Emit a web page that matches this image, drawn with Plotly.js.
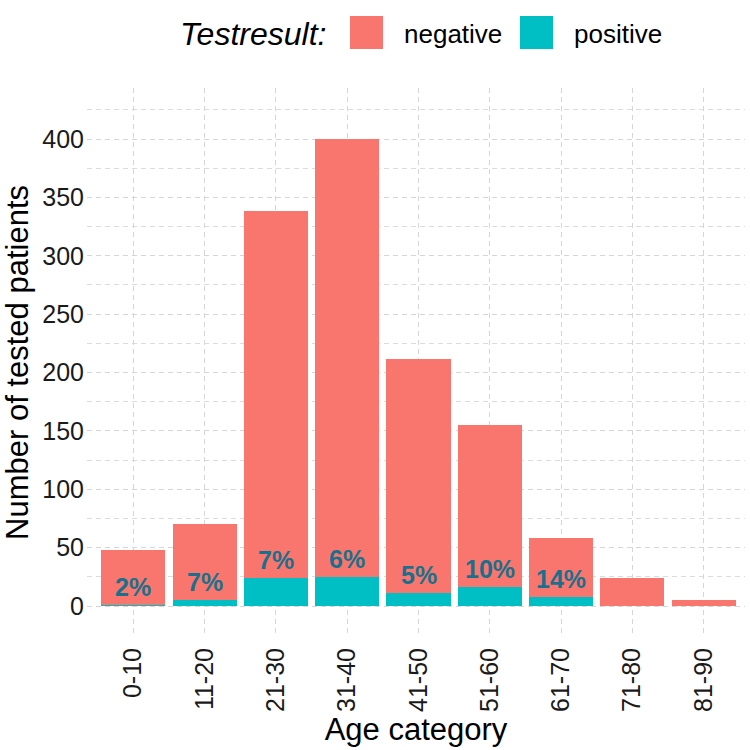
<!DOCTYPE html>
<html>
<head>
<meta charset="utf-8">
<script src="https://cdn.plot.ly/plotly-3.0.1.min.js"></script>
<style>html,body{margin:0;padding:0;background:#fff;}#chart{width:750px;height:750px;}</style>
</head>
<body>
<div id="chart"></div>
<script>
// ---- data ----
var ageCategories = ["0-10","11-20","21-30","31-40","41-50","51-60","61-70","71-80","81-90"];
var totalTested   = [48, 70, 338, 400, 212, 155, 58, 24, 5];
var positiveTests = [1, 5, 24, 25, 11, 16, 8, 0, 0];
var negativeTests = totalTested.map(function(t, i){ return t - positiveTests[i]; });
var yTickValues = [0, 50, 100, 150, 200, 250, 300, 350, 400];
var yMinorValues = [25, 75, 125, 175, 225, 275, 325, 375, 425];

var FONT = "Liberation Sans, Arial, Helvetica, sans-serif";
var NEG = "#F8766D", POS = "#00BFC4", LABEL = "#18708c";

// plot area in pixels
var L = 87, R = 5, T = 88, B = 113, W = 750, H = 750;
var pw = W - L - R, ph = H - T - B;
function px(x){ return (x - L) / pw; }
function py(y){ return (H - B - y) / ph; }

var traces = [
  {type: "bar", name: "positive", x: ageCategories, y: positiveTests,
   marker: {color: POS, line: {width: 0}}, width: 0.9, showlegend: false, hoverinfo: "x+y+name"},
  {type: "bar", name: "negative", x: ageCategories, y: negativeTests,
   marker: {color: NEG, line: {width: 0}}, width: 0.9, showlegend: false, hoverinfo: "x+y+name"}
];

var annotations = [];
ageCategories.forEach(function(c, i){
  if (positiveTests[i] > 0) {
    annotations.push({
      x: c, y: positiveTests[i], xref: "x", yref: "y",
      text: Math.round(positiveTests[i] / totalTested[i] * 100) + "%",
      showarrow: false, yanchor: "bottom", xanchor: "center", yshift: 2,
      font: {family: FONT, size: 25, color: LABEL, weight: "bold"}
    });
  }
});

// legend (drawn as layout decoration)
annotations.push({xref: "paper", yref: "paper", x: px(178), y: py(34), xanchor: "left", yanchor: "middle",
  text: "<i>Testresult:</i>", showarrow: false, font: {family: FONT, size: 32, color: "#000"}});
annotations.push({xref: "paper", yref: "paper", x: px(402), y: py(34), xanchor: "left", yanchor: "middle",
  text: "negative", showarrow: false, font: {family: FONT, size: 26, color: "#000"}});
annotations.push({xref: "paper", yref: "paper", x: px(572), y: py(34), xanchor: "left", yanchor: "middle",
  text: "positive", showarrow: false, font: {family: FONT, size: 26, color: "#000"}});

var shapes = [
  {type: "rect", xref: "paper", yref: "paper", x0: px(350), x1: px(383), y0: py(49), y1: py(16),
   fillcolor: NEG, line: {width: 0}},
  {type: "rect", xref: "paper", yref: "paper", x0: px(520), x1: px(553), y0: py(49), y1: py(16),
   fillcolor: POS, line: {width: 0}}
];

var gridStyle = {gridcolor: "#d6d6d6", gridwidth: 1, griddash: "5px,4px"};

var layout = {
  width: W, height: H,
  margin: {l: L, r: R, t: T, b: B, pad: 0},
  paper_bgcolor: "#fff", plot_bgcolor: "#fff",
  barmode: "stack", bargap: 0.1,
  showlegend: false,
  font: {family: FONT, color: "#000"},
  xaxis: Object.assign({
    type: "category", range: [-0.65, 8.58], fixedrange: true,
    showgrid: true, zeroline: false, showline: false, ticks: "",
    tickangle: -90, tickfont: {family: FONT, size: 25, color: "#1a1a1a"},
    ticklabelstandoff: 5,
    title: {text: "Age category", font: {family: FONT, size: 31, color: "#000"}, standoff: 4}
  }, gridStyle),
  yaxis: Object.assign({
    range: [-26.5, 443.7], fixedrange: true,
    tickvals: yTickValues, ticktext: yTickValues.map(String),
    showgrid: true, zeroline: false, showline: false, ticks: "",
    tickfont: {family: FONT, size: 25, color: "#1a1a1a"},
    ticklabelstandoff: 2,
    minor: {tickmode: "array", tickvals: yMinorValues, ticks: "", showgrid: true,
            gridcolor: "#dcdcdc", gridwidth: 1, griddash: "5px,4px"},
    title: {text: "Number of tested patients", font: {family: FONT, size: 31, color: "#000"}, standoff: 4}
  }, gridStyle),
  annotations: annotations,
  shapes: shapes
};

Plotly.newPlot("chart", traces, layout, {displayModeBar: false, staticPlot: true});
</script>
</body>
</html>
